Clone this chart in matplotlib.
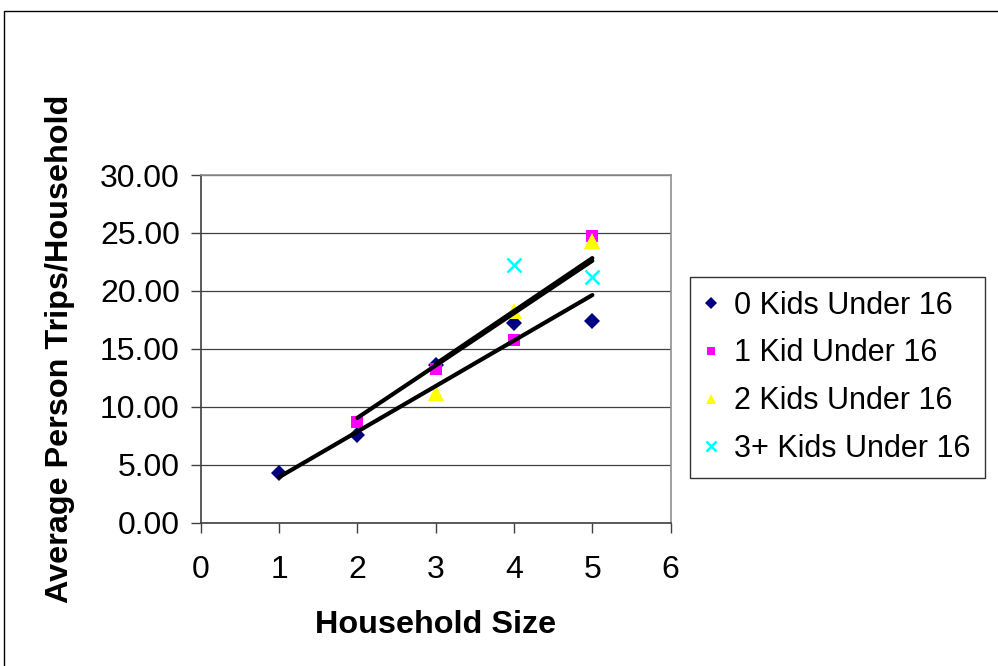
import numpy as np
import matplotlib.pyplot as plt
from matplotlib.patches import Rectangle

plt.rcParams['font.family'] = ['Liberation Sans', 'DejaVu Sans']

# Average person trips per household, split by kids under 16
labels = ['0 Kids Under 16', '1 Kid Under 16', '2 Kids Under 16', '3+ Kids Under 16']
sizes_0 = [1, 2, 3, 4, 5]
trips_0 = [4.31, 7.57, 13.60, 17.20, 17.40]
sizes_1 = [2, 3, 4, 5]
trips_1 = [8.71, 13.29, 15.76, 24.76]
sizes_2 = [3, 4, 5]
trips_2 = [11.22, 18.29, 24.30]
sizes_3 = [4, 5]
trips_3 = [22.23, 21.23]

colors = ['#000080', '#FF00FF', '#FFFF00', '#00FFFF']
markers = ['D', 's', '^', 'x']
msizes = [8.5, 9, 11, 10]

fig = plt.figure(figsize=(9.98, 6.66), dpi=100)
# chart area border
fig.patches.append(Rectangle((4 / 998, -0.05), 1.1, 1 - 11 / 666 + 0.05,
                             transform=fig.transFigure, fill=False,
                             edgecolor='black', linewidth=1.0))

ax = fig.add_axes([0.2011, 0.2152, 0.4709, 0.522])

series = [(sizes_0, trips_0), (sizes_1, trips_1), (sizes_2, trips_2), (sizes_3, trips_3)]
for (xs, ys), lab, c, m, ms in zip(series, labels, colors, markers, msizes):
    if m == 'x':
        ax.plot(xs, ys, linestyle='none', marker=m, color=c, markersize=ms,
                markeredgewidth=1.8, label=lab, zorder=3)
    else:
        ax.plot(xs, ys, linestyle='none', marker=m, color=c, markersize=ms,
                markeredgewidth=0, label=lab, zorder=3)

# linear trend lines forced through the origin (first three groups)
for xs, ys in series[:3]:
    xs = np.array(xs, dtype=float)
    ys = np.array(ys, dtype=float)
    b = np.sum(xs * ys) / np.sum(xs * xs)
    xr = np.array([xs.min(), xs.max()])
    ax.plot(xr, b * xr, color='black', linewidth=3.0, solid_capstyle='round', zorder=4)

ax.set_xlim(0, 6)
ax.set_ylim(0, 30)
ax.set_xticks(range(0, 7))
ax.set_yticks(np.arange(0, 31, 5))
ax.yaxis.set_major_formatter(plt.FormatStrFormatter('%.2f'))
ax.tick_params(axis='both', labelsize=23, direction='out', length=7, width=1, color='#404040')
ax.tick_params(axis='x', pad=16)
ax.tick_params(axis='y', pad=8)

ax.yaxis.grid(True, color='#404040', linewidth=0.9)
ax.set_axisbelow(True)
for side in ['top', 'right']:
    ax.spines[side].set_color('#909090')
    ax.spines[side].set_linewidth(1.2)
for side in ['left', 'bottom']:
    ax.spines[side].set_color('#404040')
    ax.spines[side].set_linewidth(1.2)

fig.text(436 / 998, 1 - 625 / 666, 'Household Size', fontsize=23.3, fontweight='bold',
         ha='center', va='center')
fig.text(60 / 998, 1 - 349 / 666, 'Average Person Trips/Household', fontsize=23.3,
         fontweight='bold', ha='center', va='center', rotation=90)

leg = fig.legend(loc='upper left', bbox_to_anchor=(690 / 998, 1 - 277 / 666),
                 fontsize=22, frameon=True, fancybox=False, edgecolor='black',
                 handlelength=0.5, handletextpad=0.5, borderpad=0.45,
                 labelspacing=0.58, markerscale=0.7, borderaxespad=0)
leg.get_frame().set_linewidth(1.0)

fig.savefig('out.png', dpi=100)
